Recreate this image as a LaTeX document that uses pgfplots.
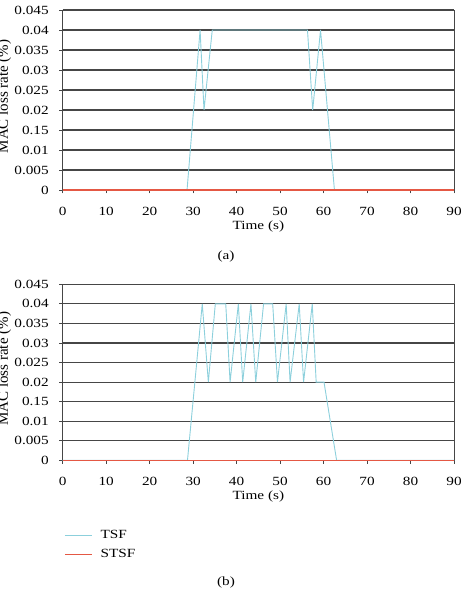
\documentclass[border=0pt]{standalone}
\usepackage{pgfplots}
\pgfplotsset{compat=1.18}
\usepackage{fontspec}
\setmainfont{Liberation Serif}
\usepackage{graphicx}
\newcommand\sx[1]{\scalebox{1.22}[1]{#1}}
\definecolor{tsf}{RGB}{140,208,220}
\definecolor{stsf}{RGB}{228,88,68}
\definecolor{gridc}{RGB}{70,70,70}
\newcommand\ylab{%
  \pgfmathparse{abs(\tick-0.015)<0.0005 ? 1 : 0}%
  \ifdim\pgfmathresult pt>0.5pt \sx{0.15}%
  \else\sx{\pgfmathprintnumber[fixed,precision=3]{\tick}}\fi}
\pgfplotsset{myax/.style={
  scale only axis, width=391.3pt,
  xmin=0, xmax=90, ymin=0, ymax=0.045,
  scaled y ticks=false, scaled x ticks=false,
  /pgf/number format/assume math mode=true,
  xtick={0,10,...,90},
  xticklabels={\sx{0},\sx{10},\sx{20},\sx{30},\sx{40},\sx{50},\sx{60},\sx{70},\sx{80},\sx{90}},
  ytick={0,0.005,0.01,0.015,0.02,0.025,0.03,0.035,0.04,0.045},
  yticklabel={\ylab},
  ymajorgrids, grid style={gridc, line width=1.1pt},
  axis line style={gridc, line width=0.9pt},
  tick style={gridc, line width=0.8pt},
  tick align=outside, major tick length=3.5pt,
  xtick pos=bottom, ytick pos=left,
  font=\fontsize{12.5}{14}\selectfont,
  xticklabel style={anchor=north, inner sep=0pt, yshift=-13pt},
  yticklabel style={anchor=east, inner sep=0pt, xshift=-10.3pt},
  xlabel={\sx{Time (s)}},
  xlabel style={at={(axis description cs:0.5,0)}, anchor=base, yshift=-39pt},
  ylabel={MAC loss rate (\%)},
  ylabel style={at={(axis description cs:-0.1398,0.52)}, anchor=base, font=\fontsize{15}{17}\selectfont},
  clip=false,
}}
\begin{document}
\begin{tikzpicture}
\useasboundingbox (0,0) rectangle (465pt,-593pt);
\clip (0,0) rectangle (465pt,-593pt);
\begin{axis}[myax, height=180pt, at={(62.7pt,-190pt)}, anchor=south west]
\addplot[tsf, line width=0.9pt] coordinates {
(0,0) (28.6,0) (31.6,0.04) (32.5,0.02) (34.4,0.04) (56.3,0.04) (57.5,0.02) (59.3,0.04) (62.5,0) (90,0)};
\addplot[stsf, line width=1.2pt] coordinates {(0,0) (90,0)};
\end{axis}
\begin{axis}[myax, height=176pt, at={(62.7pt,-460.3pt)}, anchor=south west,
  legend style={draw=none, fill=none, at={(axis description cs:0,0)}, anchor=north west,
    xshift=1.3pt, yshift=-70pt, inner sep=0pt, row sep=9pt, column sep=8.5pt,
    nodes={inner sep=0pt}},
  legend cell align=left,
  legend image code/.code={\draw[#1] (0pt,0pt) -- (26.7pt,0pt); \path (0pt,-4.2pt);}]
\addplot[tsf, line width=0.9pt] coordinates {
(0,0) (28.7,0) (32.1,0.04) (33.5,0.02) (35.1,0.04) (37.5,0.04) (38.5,0.02) (40.4,0.04) (41.4,0.02) (43.3,0.04) (44.4,0.02) (46.2,0.04) (48.3,0.04) (49.4,0.02) (51.4,0.04) (52.3,0.02) (54.4,0.04) (55.4,0.02) (57.4,0.04) (58.3,0.02) (60.1,0.02) (63.0,0) (90,0)};
\addlegendentry{\sx{TSF}}
\addplot[stsf, line width=1.2pt] coordinates {(0,0) (90,0)};
\addlegendentry{\sx{STSF}}
\end{axis}
\node[font=\fontsize{12.5}{14}\selectfont] at (226pt,-256pt) {\sx{(a)}};
\node[font=\fontsize{12.5}{14}\selectfont] at (226pt,-582pt) {\sx{(b)}};
\end{tikzpicture}
\end{document}
